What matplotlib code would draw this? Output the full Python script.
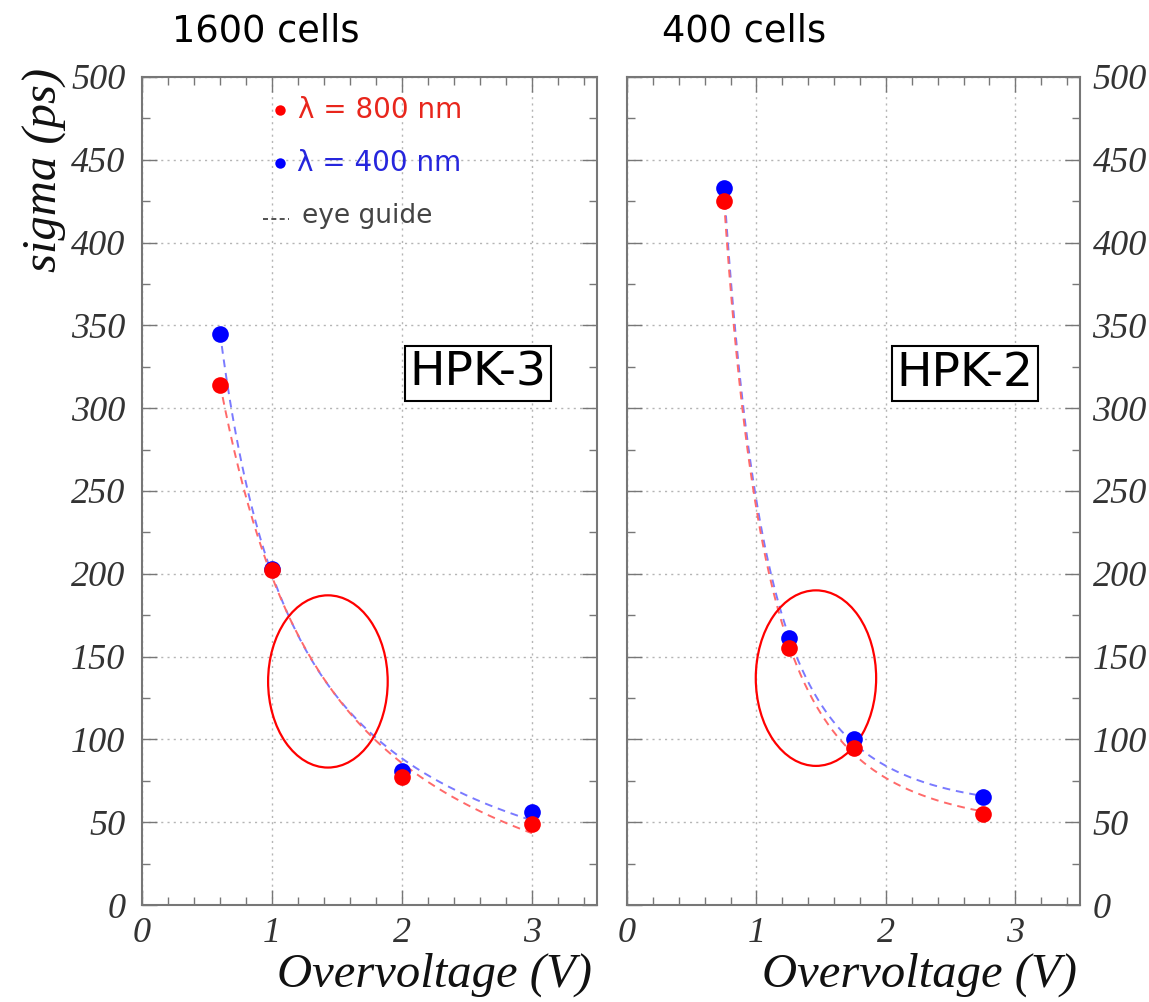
import numpy as np
import matplotlib
matplotlib.use("Agg")
import matplotlib.pyplot as plt
from matplotlib.patches import Ellipse
from matplotlib.ticker import MultipleLocator

# --- data -------------------------------------------------------------
panel_titles = ["1600 cells", "400 cells"]
panel_tags = ["HPK-3", "HPK-2"]

ov_hpk3 = [0.6, 1.0, 2.0, 3.0]
sigma_800_hpk3 = [314, 202, 77, 49]
sigma_400_hpk3 = [345, 203, 81, 56]

ov_hpk2 = [0.75, 1.25, 1.75, 2.75]
sigma_800_hpk2 = [425, 155, 95, 55]
sigma_400_hpk2 = [433, 161, 100, 65]

# ellipse highlights (centre x, centre y, width, height) in data units
highlight_hpk3 = (1.43, 135, 0.92, 104)
highlight_hpk2 = (1.46, 137, 0.93, 106)

y_ticks = [0, 50, 100, 150, 200, 250, 300, 350, 400, 450, 500]
x_ticks = [0, 1, 2, 3]

# --- style ------------------------------------------------------------
RED = "#ff0000"
BLUE = "#0000ff"
RED_GUIDE = "#ff6a6a"
BLUE_GUIDE = "#7a7aff"
TICK_FONT = dict(family="Liberation Serif", style="italic", size=26, color="#333333")
LABEL_FONT = dict(family="Liberation Serif", style="italic", size=35, color="#111111")

W, H = 1149, 1002
fig = plt.figure(figsize=(W / 100, H / 100), dpi=100)

ax_l = fig.add_axes([142 / W, 1 - 905 / H, 455 / W, 828 / H])
ax_r = fig.add_axes([627 / W, 1 - 905 / H, 453 / W, 828 / H])


def guide_curve(x, y, x_lo, x_hi):
    """Smooth eye guide: least-squares fit of y = c0 + c1/x + c2/x^2."""
    x = np.asarray(x, float)
    y = np.asarray(y, float)
    A = np.vstack([np.ones_like(x), 1 / x, 1 / x**2]).T
    c, *_ = np.linalg.lstsq(A, y, rcond=None)
    xs = np.linspace(x_lo, x_hi, 200)
    return xs, c[0] + c[1] / xs + c[2] / xs**2


def style_axes(ax, labels_right=False):
    ax.set_xlim(0, 3.5)
    ax.set_ylim(0, 500)
    ax.set_xticks(x_ticks)
    ax.set_yticks(y_ticks)
    ax.xaxis.set_minor_locator(MultipleLocator(0.2))
    ax.yaxis.set_minor_locator(MultipleLocator(25))
    ax.grid(True, which="major", linestyle=(0, (1.5, 3)), color="#b5b5b5", linewidth=1.0)
    ax.set_axisbelow(True)
    for s in ax.spines.values():
        s.set_color("#777777")
        s.set_linewidth(1.5)
    ax.tick_params(which="both", direction="in", top=True, right=True,
                   color="#777777", width=1.0)
    ax.tick_params(which="major", length=11)
    ax.tick_params(which="minor", length=6)
    ax.tick_params(axis="x", which="major", pad=9)
    if labels_right:
        ax.tick_params(axis="y", labelleft=False, labelright=True, pad=9)
    else:
        ax.tick_params(axis="y", pad=12)
    ax.set_xticklabels([str(v) for v in x_ticks], fontdict=TICK_FONT)
    ax.set_yticklabels([str(v) for v in y_ticks], fontdict=TICK_FONT)


def draw_panel(ax, ov, s800, s400, lo, hi, ell, tag, tag_xy):
    xs, yb = guide_curve(ov, s400, lo, hi)
    ax.plot(xs, yb, color=BLUE_GUIDE, lw=1.4, dashes=(4, 3), zorder=3)
    xs, yr = guide_curve(ov, s800, lo, hi)
    ax.plot(xs, yr, color=RED_GUIDE, lw=1.4, dashes=(4, 3), zorder=3)
    ax.plot(ov, s400, "o", color=BLUE, ms=12, mec="none", zorder=5)
    ax.plot(ov, s800, "o", color=RED, ms=12, mec="none", zorder=6)
    cx, cy, ew, eh = ell
    ax.add_patch(Ellipse((cx, cy), ew, eh, fill=False, edgecolor=RED, lw=1.6, zorder=4))
    ax.text(tag_xy[0], tag_xy[1], tag, fontsize=34, family="DejaVu Sans",
            ha="center", va="center", zorder=7,
            bbox=dict(boxstyle="square,pad=0.1", fc="white", ec="black", lw=1.5))


draw_panel(ax_l, ov_hpk3, sigma_800_hpk3, sigma_400_hpk3, 0.6, 3.0,
           highlight_hpk3, panel_tags[0], (2.585, 321))
draw_panel(ax_r, ov_hpk2, sigma_800_hpk2, sigma_400_hpk2, 0.75, 2.75,
           highlight_hpk2, panel_tags[1], (2.61, 321))

style_axes(ax_l)
style_axes(ax_r, labels_right=True)

# legend drawn inside the left panel
ax_l.plot([1.06], [480], "o", color=RED, ms=7.5, mec="none")
ax_l.text(1.2, 480, "λ = 800 nm", color="#e8261c", fontsize=20,
          family="DejaVu Sans", va="center", ha="left")
ax_l.plot([1.06], [448], "o", color=BLUE, ms=7.5, mec="none")
ax_l.text(1.19, 448, "λ = 400 nm", color="#2626dd", fontsize=20,
          family="DejaVu Sans", va="center", ha="left")
ax_l.plot([0.93, 1.13], [414, 414], color="#333333", lw=1.2, dashes=(3, 2))
ax_l.text(1.23, 416, "eye guide", color="#444444", fontsize=19,
          family="DejaVu Sans", va="center", ha="left")

# panel titles
fig.text(172 / W, 1 - 31 / H, panel_titles[0], fontsize=26.5, family="DejaVu Sans",
         ha="left", va="center")
fig.text(662 / W, 1 - 31 / H, panel_titles[1], fontsize=26.5, family="DejaVu Sans",
         ha="left", va="center")

# axis titles
fig.text(45 / W, 1 - 68 / H, "sigma (ps)", rotation=90, ha="center", va="top",
         **LABEL_FONT)
fig.text(592 / W, 1 - 975 / H, "Overvoltage (V)", ha="right", va="center", **LABEL_FONT)
fig.text(1077 / W, 1 - 975 / H, "Overvoltage (V)", ha="right", va="center", **LABEL_FONT)

fig.savefig("out.png", dpi=100, facecolor="white")
